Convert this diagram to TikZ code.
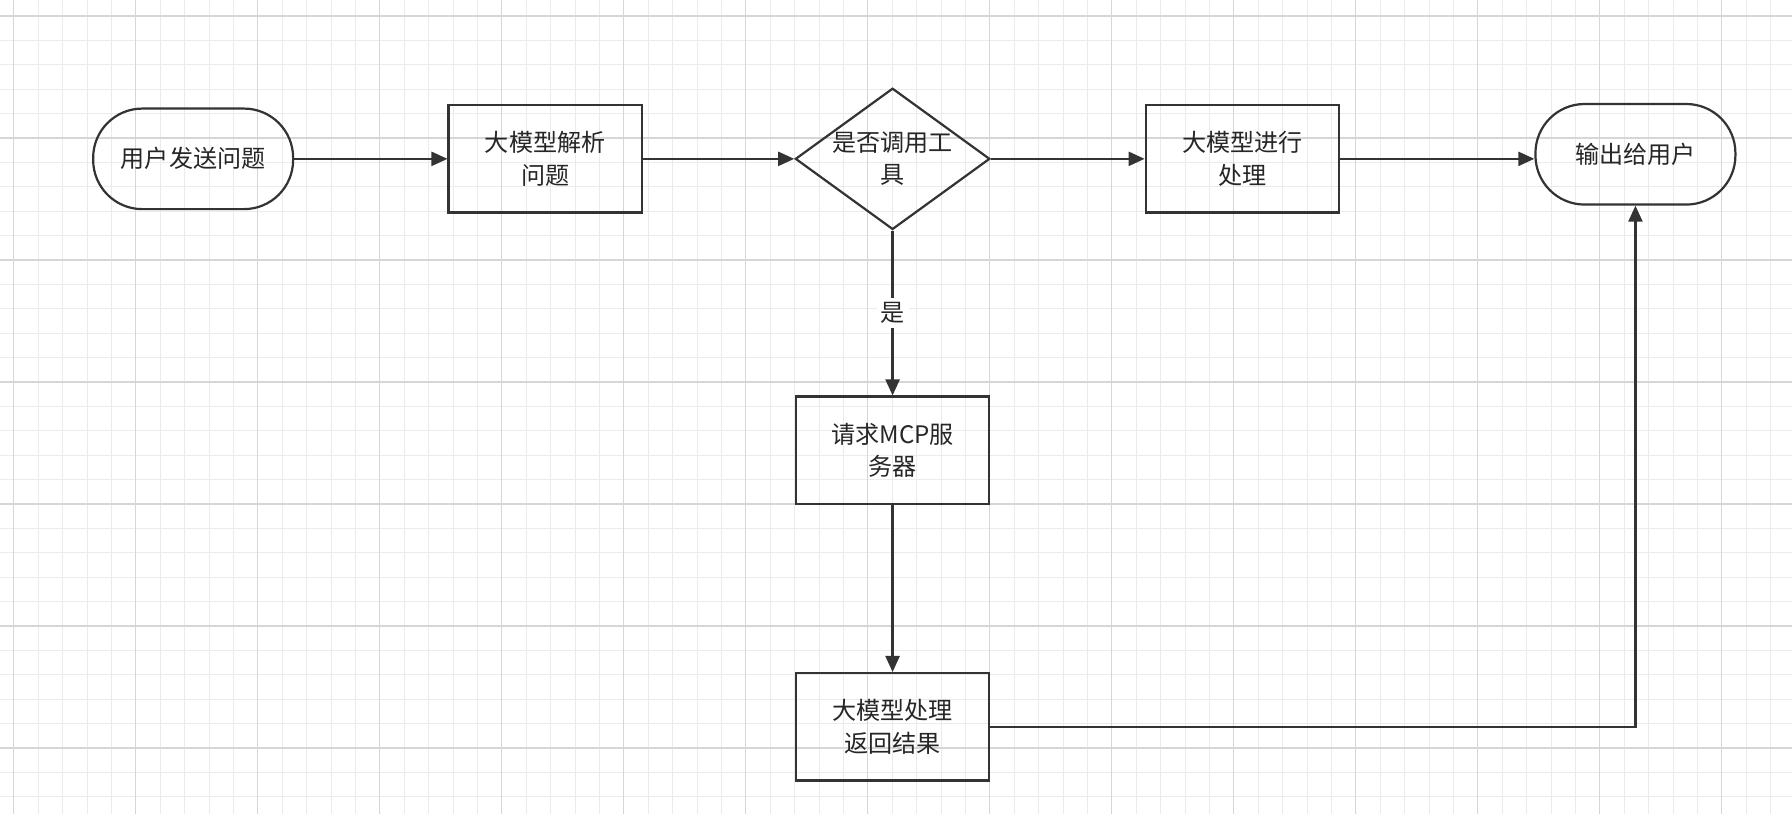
\documentclass[tikz,border=0pt]{standalone}
\usepackage{fontspec}
\newfontfamily\cjk{Noto Sans CJK SC}
\usetikzlibrary{arrows.meta, shapes.geometric}

\begin{document}
\begin{tikzpicture}[x=0.02cm,y=-0.02cm,
>={Triangle[length=8pt,width=7pt]},line width=1.1pt,draw=black!80,text=black!85,
every node/.style={font=\cjk\fontsize{12}{16}\selectfont,align=center},
box/.style={draw,rectangle,minimum width=3.38cm,minimum height=1.88cm},
term/.style={draw,rectangle,rounded corners=0.86cm,minimum width=3.5cm,minimum height=1.76cm},
choice/.style={draw,diamond,aspect=1.377,minimum width=3.36cm,inner sep=0pt}]

  \useasboundingbox (0,0) rectangle (1568,712);
  \fill[white] (0,0) rectangle (1568,712);

  % background grid
  \foreach \i in {0,...,74} \draw[line width=0.4pt,black!8] (\i*21.35+12,0) -- ++(0,712);
  \foreach \i in {0,...,34} \draw[line width=0.4pt,black!8] (0,\i*21.35+14) -- ++(1568,0);
  \foreach \i in {0,...,14} \draw[line width=0.6pt,black!16] (\i*106.75+12,0) -- ++(0,712);
  \foreach \i in {0,...,6} \draw[line width=0.6pt,black!16] (0,\i*106.75+14) -- ++(1568,0);

  % nodes
  \node[term]   (ask)    at (169,139)  {用户发送问题};
  \node[box]    (parse)  at (477,139)  {大模型解析\\问题};
  \node[choice] (tool)   at (781,139)  {是否调用工\\具};
  \node[box]    (handle) at (1087,139) {大模型进行\\处理};
  \node[term]   (out)    at (1431,135) {输出给用户};
  \node[box]    (mcp)    at (781,394)  {请求MCP服\\务器};
  \node[box]    (result) at (781,636)  {大模型处理\\返回结果};
  \coordinate (bend) at (1431,636);

  % connectors
  \draw[->] (ask) -- (parse);
  \draw[->] (parse) -- (tool);
  \draw[->] (tool) -- (handle);
  \draw[->] (handle.east) -- (out.west |- handle.east);
  \draw[->] (tool) -- node[fill=white,inner sep=2pt] {是} (mcp);
  \draw[->] (mcp) -- (result);
  \draw[->] (result) -- (bend) -- (out);
\end{tikzpicture}
\end{document}
